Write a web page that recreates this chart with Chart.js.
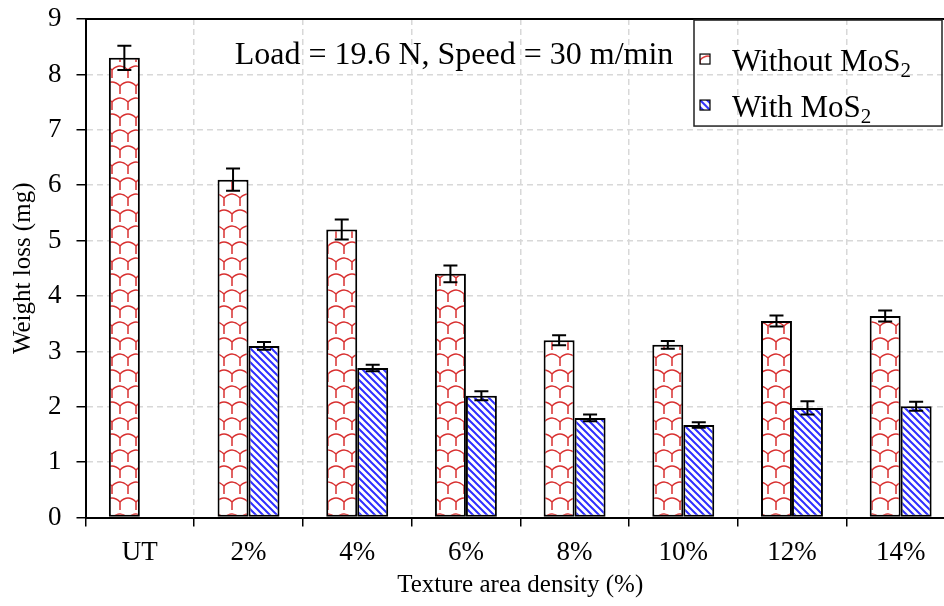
<!DOCTYPE html>
<html>
<head>
  <meta charset="UTF-8">
  <title>Weight loss vs texture area density</title>
  <script src="https://cdn.jsdelivr.net/npm/chart.js"></script>
  <style>
    html, body { margin: 0; padding: 0; background: #fff; overflow: hidden; }
  </style>
  <script>
    // data
    const categories = ['UT', '2%', '4%', '6%', '8%', '10%', '12%', '14%'];
    const withoutMoS2 = [8.3, 6.1, 5.2, 4.4, 3.2, 3.12, 3.55, 3.64];
    const withoutMoS2Err = [0.22, 0.2, 0.18, 0.15, 0.09, 0.07, 0.1, 0.1];
    const withMoS2 = [null, 3.1, 2.7, 2.2, 1.8, 1.67, 1.98, 2.01];
    const withMoS2Err = [0, 0.07, 0.06, 0.08, 0.06, 0.05, 0.12, 0.08];
    const legendText = ['Without MoS', 'With MoS'];
    const legendSub = '2';
    const noteText = 'Load = 19.6 N, Speed = 30 m/min';

    const serif = 'Liberation Serif';

    // red shingle fill, two offset rows per tile
    function scalePattern(ctx) {
      const W = 16, H = 32;
      const c = document.createElement('canvas');
      c.width = W; c.height = H;
      const g = c.getContext('2d');
      g.fillStyle = '#fff';
      g.fillRect(0, 0, W, H);
      g.strokeStyle = '#d83030';
      g.lineWidth = 1.5;
      for (let dx = -W; dx <= W; dx += W) {
        for (let dy = -H; dy <= H; dy += H) {
          g.beginPath();
          // upper row: arch then a tail dropping from its right foot
          g.moveTo(dx, dy + 6);
          g.quadraticCurveTo(dx + 8, dy - 2, dx + 16, dy + 6);
          g.lineTo(dx + 16, dy + 14);
          // lower row, shifted half a cell
          g.moveTo(dx - 8, dy + 22);
          g.quadraticCurveTo(dx, dy + 14, dx + 8, dy + 22);
          g.lineTo(dx + 8, dy + 30);
          g.stroke();
        }
      }
      return ctx.createPattern(c, 'repeat');
    }

    // blue diagonal stripes
    function stripePattern(ctx) {
      const P = 7;
      const c = document.createElement('canvas');
      c.width = P; c.height = P;
      const g = c.getContext('2d');
      g.fillStyle = '#fff';
      g.fillRect(0, 0, P, P);
      g.strokeStyle = '#2f2fff';
      g.lineWidth = 2;
      g.beginPath();
      g.moveTo(-1, -1); g.lineTo(P + 1, P + 1);
      g.moveTo(-1, P - 1); g.lineTo(1, P + 1);
      g.moveTo(P - 1, -1); g.lineTo(P + 1, 1);
      g.stroke();
      return ctx.createPattern(c, 'repeat');
    }

    const errorBars = {
      id: 'errorBars',
      afterDatasetsDraw(chart) {
        const ctx = chart.ctx;
        const y = chart.scales.y;
        ctx.save();
        ctx.strokeStyle = '#000';
        ctx.lineWidth = 2;
        chart.data.datasets.forEach((ds, i) => {
          const meta = chart.getDatasetMeta(i);
          meta.data.forEach((bar, j) => {
            const v = ds.data[j];
            if (v == null) return;
            const e = ds.errors[j];
            const top = y.getPixelForValue(v + e);
            const bot = y.getPixelForValue(v - e);
            ctx.beginPath();
            ctx.moveTo(bar.x, top); ctx.lineTo(bar.x, bot);
            ctx.moveTo(bar.x - 7, top); ctx.lineTo(bar.x + 7, top);
            ctx.moveTo(bar.x - 7, bot); ctx.lineTo(bar.x + 7, bot);
            ctx.stroke();
          });
        });
        ctx.restore();
      }
    };

    // top and right edges of the plot frame
    const frame = {
      id: 'frame',
      afterDatasetsDraw(chart) {
        const { ctx, chartArea: a } = chart;
        ctx.save();
        ctx.strokeStyle = '#000';
        ctx.lineWidth = 2;
        ctx.beginPath();
        ctx.moveTo(a.left, a.top); ctx.lineTo(a.right, a.top); ctx.lineTo(a.right, a.bottom);
        ctx.stroke();
        ctx.restore();
      }
    };

    const legendBox = {
      id: 'legendBox',
      afterDraw(chart) {
        const { ctx, chartArea: a } = chart;
        const x0 = 694, y0 = a.top + 1, w = 248, h = 106;
        ctx.save();
        ctx.strokeStyle = '#222';
        ctx.lineWidth = 1.5;
        ctx.strokeRect(x0, y0, w, h);
        chart.data.datasets.forEach((ds, i) => {
          const base = y0 + 51 + i * 46;
          // swatch, with the fill anchored at its own corner
          ctx.save();
          ctx.translate(x0 + 6, base - 17);
          ctx.fillStyle = ds.backgroundColor;
          ctx.fillRect(0, 0, 10, 10);
          ctx.strokeStyle = '#000';
          ctx.lineWidth = 1.2;
          ctx.strokeRect(0, 0, 10, 10);
          ctx.restore();
          ctx.fillStyle = '#000';
          ctx.textBaseline = 'alphabetic';
          ctx.font = '31px "' + serif + '"';
          ctx.fillText(legendText[i], x0 + 38, base);
          const tw = ctx.measureText(legendText[i]).width;
          ctx.font = '21px "' + serif + '"';
          ctx.fillText(legendSub, x0 + 38 + tw, base + 6);
        });
        ctx.restore();
      }
    };

    const note = {
      id: 'note',
      afterDraw(chart) {
        const { ctx, chartArea: a } = chart;
        ctx.save();
        ctx.fillStyle = '#000';
        ctx.font = '32px "' + serif + '"';
        ctx.textAlign = 'center';
        ctx.textBaseline = 'alphabetic';
        ctx.fillText(noteText, 454, a.top + 45);
        ctx.restore();
      }
    };

    window.onload = () => {
      const canvas = document.getElementById('chart');
      const ctx = canvas.getContext('2d');

      new Chart(ctx, {
        type: 'bar',
        data: {
          labels: categories,
          datasets: [{
            label: 'Without MoS₂',
            data: withoutMoS2,
            errors: withoutMoS2Err,
            backgroundColor: scalePattern(ctx),
            borderColor: '#000',
            borderWidth: 2,
            borderSkipped: false
          }, {
            label: 'With MoS₂',
            data: withMoS2,
            errors: withMoS2Err,
            backgroundColor: stripePattern(ctx),
            borderColor: '#000',
            borderWidth: 2,
            borderSkipped: false
          }]
        },
        options: {
          responsive: false,
          animation: false,
          categoryPercentage: 0.57,
          barPercentage: 1,
          layout: { padding: { top: 19, right: 15, left: 0, bottom: 6 } },
          plugins: {
            legend: { display: false },
            tooltip: { enabled: false }
          },
          scales: {
            x: {
              grid: { offset: true, color: '#d8d8d8', lineWidth: 1.5, tickColor: '#000', tickLength: 9, tickWidth: 1.5 },
              border: { color: '#000', width: 2, dash: [6, 4] },
              ticks: { color: '#000', font: { family: serif, size: 27 }, padding: 10 },
              title: {
                display: true, text: 'Texture area density (%)', color: '#000',
                font: { family: serif, size: 25 }, padding: { top: -9, bottom: 0 }
              }
            },
            y: {
              min: 0, max: 9,
              grid: { color: '#d8d8d8', lineWidth: 1.5, tickColor: '#000', tickLength: 9, tickWidth: 1.5 },
              border: { color: '#000', width: 2, dash: [6, 4] },
              // small lineHeight keeps the top label from pushing the plot down
              ticks: { stepSize: 1, color: '#000', font: { family: serif, size: 27, lineHeight: 0.3 }, padding: 15 },
              title: {
                display: true, text: 'Weight loss (mg)', color: '#000',
                font: { family: serif, size: 25 }, padding: { top: 8, bottom: -5 }
              }
            }
          }
        },
        plugins: [errorBars, frame, legendBox, note]
      });
    };
  </script>
</head>
<body>
  <canvas id="chart" width="970" height="606"></canvas>
</body>
</html>
